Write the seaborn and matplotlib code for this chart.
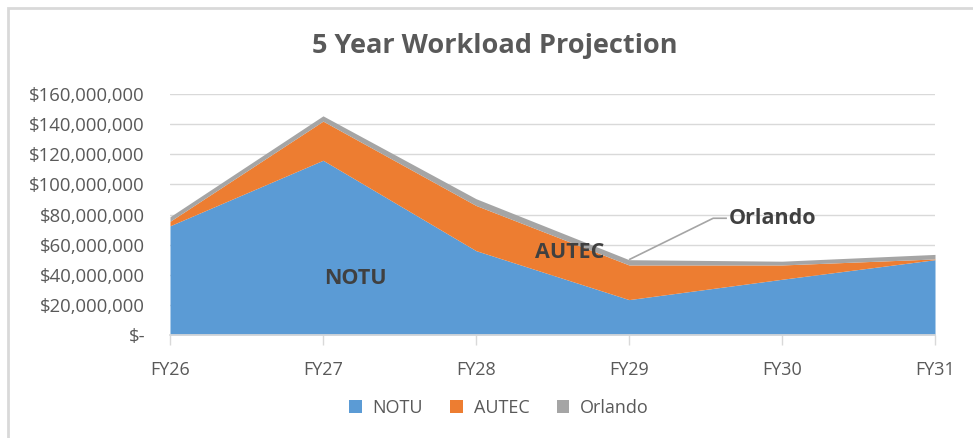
import matplotlib
matplotlib.use("Agg")
import matplotlib.pyplot as plt
import matplotlib.ticker as mticker
from matplotlib.patches import Patch, Rectangle
import seaborn as sns
import numpy as np

years = ["FY26", "FY27", "FY28", "FY29", "FY30", "FY31"]
notu = [72.5, 116, 56, 23.5, 37, 50]          # $M
autec = [3.0, 26, 30, 23.0, 9.5, 0.5]         # $M
orlando = [3.0, 3.5, 4.5, 3.5, 2.5, 3.0]      # $M
series_names = ["NOTU", "AUTEC", "Orlando"]
colors = ["#5B9BD5", "#ED7D31", "#A5A5A5"]

sns.set_theme(style="white")
plt.rcParams["font.family"] = ["Open Sans", "DejaVu Sans"]
txt = "#595959"

fig = plt.figure(figsize=(9.73, 4.38), dpi=100)
ax = fig.add_axes([170/973, 1-335/438, 765/973, 241/438])

x = np.arange(len(years))
scale = 1e6
ax.stackplot(x, np.array(notu)*scale, np.array(autec)*scale, np.array(orlando)*scale,
             colors=colors, linewidth=0, zorder=2)

ax.set_xlim(0, len(years)-1)
ax.set_ylim(0, 160e6)
ax.yaxis.set_major_locator(mticker.MultipleLocator(20e6))
ax.yaxis.set_major_formatter(mticker.FuncFormatter(
    lambda v, p: "$-" if abs(v) < 1 else "${:,.0f}".format(v)))
ax.set_xticks(x)
ax.set_xticklabels(years)
ax.grid(axis="y", color="#D9D9D9", linewidth=1, zorder=0)
ax.grid(axis="x", visible=False)
for s in ["top", "right", "left"]:
    ax.spines[s].set_visible(False)
ax.spines["bottom"].set_color("#D9D9D9")
ax.tick_params(axis="y", length=0, pad=18, labelsize=13.3, labelcolor=txt)
ax.tick_params(axis="x", length=7, width=1, color="#D9D9D9", pad=12,
               labelsize=13, labelcolor=txt, direction="out", bottom=True)
ax.set_axisbelow(True)

# in-plot labels
lab = "#404040"
ax.text(1.21, 37.8e6, "NOTU", ha="center", va="center", fontsize=15.5,
        fontweight="bold", color=lab, zorder=5)
ax.text(2.61, 54.5e6, "AUTEC", ha="center", va="center", fontsize=15.5,
        fontweight="bold", color=lab, zorder=5)
ax.plot([3.0, 3.55, 3.64], [50e6, 77.5e6, 77.5e6], color="#A5A5A5", lw=1.2,
        zorder=4, solid_capstyle="butt")
ax.text(3.65, 77.5e6, "Orlando", ha="left", va="center", fontsize=15.5,
        fontweight="bold", color=lab, zorder=5)

fig.text(495/973, 1-46/438, "5 Year Workload Projection", ha="center", va="center",
         fontsize=19.5, fontweight="bold", color=txt)

handles = [Patch(facecolor=c, edgecolor="none") for c in colors]
fig.legend(handles, series_names, loc="center", bbox_to_anchor=(499/973, 1-408/438),
           ncol=3, frameon=False, fontsize=13, labelcolor=txt,
           handlelength=0.7, handleheight=0.7, handletextpad=0.6, columnspacing=1.5)

# chart border
fig.patches.append(Rectangle((8/973, -0.1), 1.2, 1-8/438+0.1, transform=fig.transFigure,
                             fill=False, edgecolor="#D9D9D9", linewidth=2))

fig.savefig("out.png", dpi=100)
